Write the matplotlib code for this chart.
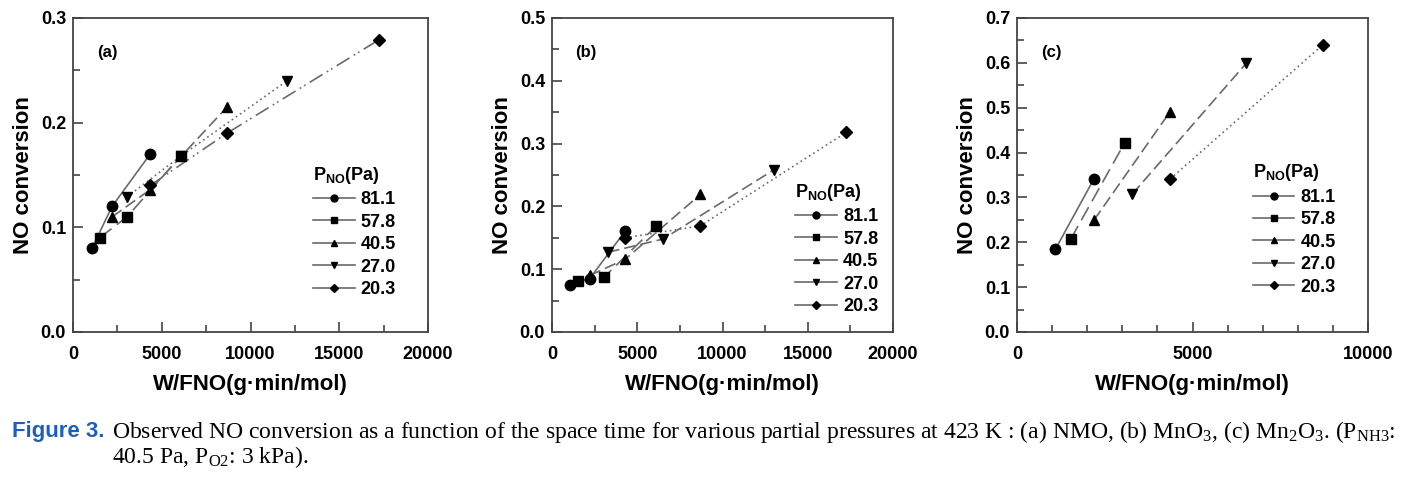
import matplotlib
matplotlib.use("Agg")
import matplotlib.pyplot as plt
from matplotlib.lines import Line2D
from matplotlib.ticker import MultipleLocator

plt.rcParams['font.family'] = ['Liberation Sans', 'DejaVu Sans']
plt.rcParams['mathtext.fontset'] = 'custom'
plt.rcParams['mathtext.rm'] = 'Liberation Sans:bold'
plt.rcParams['mathtext.bf'] = 'Liberation Sans:bold'
plt.rcParams['mathtext.default'] = 'regular'

# ---------------- data ----------------
series_labels = ["81.1", "57.8", "40.5", "27.0", "20.3"]
markers = ["o", "s", "^", "v", "D"]

# (a) NMO
a_x_811 = [1070, 2200, 4350];  a_y_811 = [0.080, 0.120, 0.170]
a_x_578 = [1500, 3040, 6070];  a_y_578 = [0.090, 0.110, 0.168]
a_x_405 = [2200, 4350, 8680];  a_y_405 = [0.110, 0.136, 0.215]
a_x_270 = [3040, 6070, 12060]; a_y_270 = [0.129, 0.168, 0.240]
a_x_203 = [4350, 8680, 17220]; a_y_203 = [0.140, 0.190, 0.279]

# (b) MnO3
b_x_811 = [1075, 2210, 4300];  b_y_811 = [0.075, 0.085, 0.161]
b_x_578 = [1525, 3050, 6120];  b_y_578 = [0.081, 0.087, 0.169]
b_x_405 = [2210, 4300, 8700];  b_y_405 = [0.090, 0.116, 0.219]
b_x_270 = [3280, 6510, 13000]; b_y_270 = [0.127, 0.148, 0.258]
b_x_203 = [4300, 8700, 17260]; b_y_203 = [0.150, 0.169, 0.318]

# (c) Mn2O3
c_x_811 = [1090, 2190]; c_y_811 = [0.184, 0.341]
c_x_578 = [1530, 3070]; c_y_578 = [0.207, 0.422]
c_x_405 = [2190, 4360]; c_y_405 = [0.249, 0.491]
c_x_270 = [3280, 6530]; c_y_270 = [0.307, 0.599]
c_x_203 = [4360, 8710]; c_y_203 = [0.341, 0.640]

panel_a = [(a_x_811, a_y_811), (a_x_578, a_y_578), (a_x_405, a_y_405), (a_x_270, a_y_270), (a_x_203, a_y_203)]
panel_b = [(b_x_811, b_y_811), (b_x_578, b_y_578), (b_x_405, b_y_405), (b_x_270, b_y_270), (b_x_203, b_y_203)]
panel_c = [(c_x_811, c_y_811), (c_x_578, c_y_578), (c_x_405, c_y_405), (c_x_270, c_y_270), (c_x_203, c_y_203)]

panel_letters = ["(a)", "(b)", "(c)"]
x_limits = [(0, 20000), (0, 20000), (0, 10000)]
y_limits = [(0, 0.3), (0, 0.5), (0, 0.7)]
x_minor = [2500, 2500, 1000]

# ---------------- styles ----------------
LINE_COL = "#6a6a6a"
styles_a = ["-", (0, (9, 4)), (0, (7, 3)), (0, (1, 2)), (0, (9, 3, 1, 2, 1, 3))]
styles_b = ["-", (0, (9, 4)), (0, (7, 3)), (0, (7, 3)), (0, (1, 2))]
styles_c = ["-", (0, (9, 4)), (0, (7, 3)), (0, (7, 3)), (0, (1, 2))]

fig = plt.figure(figsize=(14.13, 4.83), dpi=100)
W, H = 1413, 483
boxes = [(73, 355), (552, 341), (1017, 351)]
leg_anchor = [(0.676, 0.532), (0.713, 0.478), (0.672, 0.54)]
top_px, bot_px = 18, 332

panels = [panel_a, panel_b, panel_c]
styles = [styles_a, styles_b, styles_c]

for i in range(3):
    left, width = boxes[i]
    ax = fig.add_axes([left / W, (H - bot_px) / H, width / W, (bot_px - top_px) / H])
    for j, (xs, ys) in enumerate(panels[i]):
        ax.plot(xs, ys, color=LINE_COL, lw=1.2, ls=styles[i][j], zorder=2)
        ax.plot(xs, ys, ls="none", marker=markers[j], ms=7.5 if markers[j] != "D" else 6.5,
                color="black", zorder=3)
    ax.set_xlim(*x_limits[i])
    ax.set_ylim(*y_limits[i])
    ax.xaxis.set_major_locator(MultipleLocator(5000))
    ax.xaxis.set_minor_locator(MultipleLocator(x_minor[i]))
    ax.yaxis.set_major_locator(MultipleLocator(0.1))
    ax.yaxis.set_minor_locator(MultipleLocator(0.05))
    ax.yaxis.set_major_formatter(plt.FormatStrFormatter("%.1f"))
    ax.tick_params(which="both", direction="in", top=False, right=False,
                   color="#444444", width=1.2)
    ax.tick_params(which="major", length=7)
    ax.tick_params(which="minor", length=5)
    ax.tick_params(axis="x", which="major", pad=10, labelsize=13)
    ax.tick_params(axis="y", which="major", pad=5, labelsize=13)
    for lab in ax.get_xticklabels() + ax.get_yticklabels():
        lab.set_fontweight("bold")
    for sp in ax.spines.values():
        sp.set_color("#444444")
        sp.set_linewidth(1.3)
    ax.set_xlabel("W/FNO(g\u00b7min/mol)", fontsize=16, fontweight="bold", labelpad=8)
    ax.set_ylabel("NO conversion", fontsize=16, fontweight="bold", labelpad=5)
    ax.text(0.068, 0.89, panel_letters[i], transform=ax.transAxes,
            fontsize=12, fontweight="bold", va="center", ha="left")

    handles = [Line2D([], [], color=LINE_COL, lw=1.2, marker=markers[j],
                      ms=5 if markers[j] != "D" else 4.5, mfc="black", mec="black")
               for j in range(5)]
    leg = ax.legend(handles, series_labels, title="P$_{NO}$(Pa)", loc="upper left",
                    bbox_to_anchor=leg_anchor[i], frameon=False, borderpad=0,
                    borderaxespad=0,
                    handlelength=2.3, handletextpad=0.35, labelspacing=0.3,
                    prop={"size": 13, "weight": "bold"},
                    title_fontproperties={"size": 13, "weight": "bold"})
    leg._legend_box.align = "left"

# ---------------- caption ----------------
fig.text(12 / W, 1 - 437 / H, "Figure 3.", fontsize=16, fontweight="bold",
         color="#1f5fb4", family="Liberation Sans", va="baseline", ha="left")
caption = ("Observed NO conversion as a function of the space time for various partial "
           "pressures at 423 K : (a) NMO, (b) MnO$_3$, (c) Mn$_2$O$_3$. (P$_{NH3}$:\n"
           "40.5 Pa, P$_{O2}$: 3 kPa).")
fig.text(112 / W, 1 - 441 / H, caption, fontsize=17, family="Liberation Serif",
         math_fontfamily="stix", va="center_baseline", ha="left",
         linespacing=0.95)

fig.savefig("out.png", dpi=100)
